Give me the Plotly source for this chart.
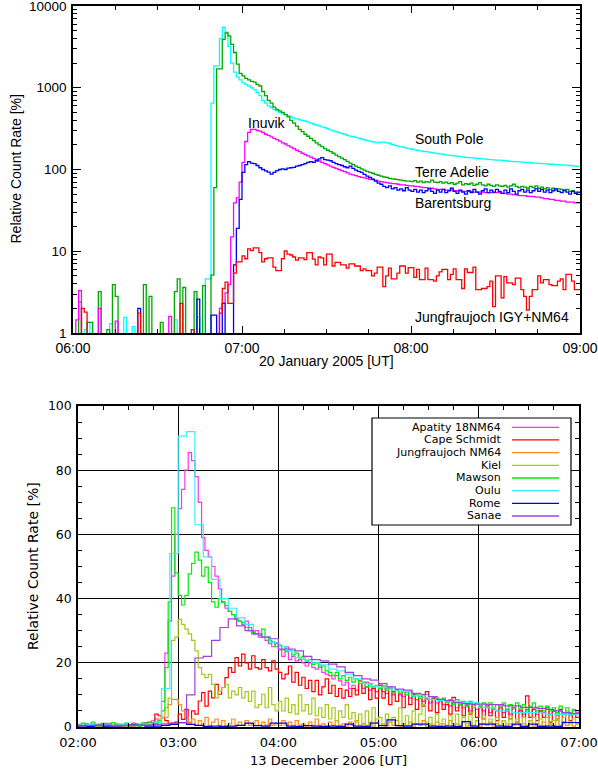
import pandas as pd
import plotly.graph_objects as go

# ---------------- Top panel data (1-minute bins, 20 January 2005, 06:00-09:00) ----------------
top_start = "2005-01-20 06:00"
top_end = "2005-01-20 09:00"
top_names = ["South Pole", "Terre Adelie", "Inuvik", "Barentsburg", "Jungfraujoch IGY+NM64"]

south_pole = [0.5,0.5,0.5,0.5,1.1,1.35,0.5,0.5,0.5,0.5,
              0.5,0.5,0.5,1.3,0.5,0.5,0.5,0.5,1.55,0.5,
              0.5,1.2,0.5,0.5,0.5,0.5,0.5,0.5,0.5,0.5,
              0.5,0.5,0.5,0.5,0.5,0.5,1.45,0.5,0.5,0.5,
              0.5,0.5,1.1,0.5,1.55,0.5,0.5,4.6,4.6,650,
              1850,1850,4000,5500,4800,3200,2000,1550,1350,1250,
              1150,1100,1050,1000,950,880,800,700,650,600,
              570,540,520,500,480,470,455,440,425,415,
              405,400,392,382,370,360,350,342,333,325,
              315,305,297,290,283,276,270,262,256,252,
              247,242,236,231,226,222,218,215,214,216,
              216,213,208,202,197,193,189,186,183,180,
              177,174,171,169,167,165,163,161,159,157,
              155,153,151,150,148,147,146,145,143,141,
              140,139,138,137,136,135,134,133,132,131,
              130,130,129,128,127,126,125,125,124,123,
              122,122,121,120,120,119,118,118,117,116,
              116,115,115,114,113,113,112,111,110,109]

terre_adelie = [0.5,0.5,2.4,0.5,0.5,1.35,1.35,0.5,0.5,3.2,
                0.5,0.5,1.1,0.5,3.9,2.8,0.5,0.5,0.5,0.5,
                0.5,0.5,0.5,0.5,0.5,3.9,0.5,2.8,0.5,0.5,
                0.5,1.35,0.5,0.5,0.5,0.5,3.2,4.6,0.5,3.6,
                0.5,0.5,0.5,3.2,0.5,0.5,3.8,0.5,0.5,5.1,
                60,1700,1700,3900,4700,4300,3400,2700,1950,1500,
                1400,1300,1250,1200,1170,1100,1050,900,800,700,
                650,580,545,520,500,470,440,400,370,340,
                310,290,270,255,240,225,212,200,190,180,
                172,165,158,150,144,138,132,126,120,115,
                110,106,102,98,95,92,90,87,85,83,
                81,80,78,77,76,75,74,73,72,72,
                71,73,70,72,69,71,70,74,70,69,
                71,68,70,67,69,66,68,71,65,67,
                66,68,64,66,69,65,63,66,64,62,
                65,63,62,64,61,63,66,62,60,62,
                61,59,62,60,63,59,61,58,60,57,
                59,56,58,57,55,57,54,55,53,52]

inuvik = [0.5,1.45,3.3,0.5,0.5,0.5,0.5,0.5,0.5,2.0,
          0.5,0.5,0.5,0.5,0.5,1.4,0.5,0.5,0.5,0.5,
          0.5,0.5,0.5,0.5,0.5,0.5,0.5,0.5,0.5,0.5,
          0.5,0.5,0.5,0.5,1.6,0.5,0.5,0.5,0.5,0.5,
          0.5,0.5,0.5,0.5,0.5,0.5,0.5,0.5,0.5,0.5,
          0.5,0.5,2.0,2.3,3.1,3.9,15,39,45,70,
          122,220,285,310,310,300,295,285,270,262,
          250,240,232,222,212,205,196,188,180,172,
          165,158,152,147,142,137,132,127,122,118,
          114,110,106,103,100,97,94,91,88,86,
          84,82,80,79,78,76,75,74,72,71,
          70,69,68,67,67,66,65,65,64,63,
          63,62,62,61,60,60,59,59,58,57,
          57,57,56,56,56,55,55,55,54,54,
          54,54,53,53,53,53,52,52,52,52,
          52,52,51,51,50,50,49,49,48,48,
          48,47,47,47,46,46,45,44,44,43,
          43,42,42,41,41,40,40,40,39,39]

barentsburg = [0.5,0.5,0.5,0.5,0.5,0.5,0.5,0.5,0.5,0.5,
               0.5,0.5,0.5,0.5,0.5,0.5,0.5,0.5,0.5,0.5,
               0.5,0.5,0.5,2.0,0.5,0.5,0.5,0.5,0.5,0.5,
               0.5,0.5,0.5,0.5,0.5,0.5,0.5,0.5,0.5,0.5,
               0.5,0.5,0.5,0.5,2.6,0.5,0.5,0.5,0.5,1.65,
               1.65,0.5,0.5,2.3,0.5,0.5,0.5,6.8,19,43,
               92,115,125,120,118,112,105,100,96,93,
               88,92,97,100,102,100,104,105,106,110,
               112,115,118,122,125,122,128,135,140,132,
               130,128,122,118,115,112,108,105,110,103,
               98,95,92,87,83,80,76,72,68,66,
               62,60,63,58,60,56,58,55,60,56,
               54,57,53,56,52,55,58,54,51,56,
               53,57,52,55,59,54,51,56,53,50,
               55,52,57,53,50,55,58,52,56,53,
               57,54,51,56,52,58,54,50,55,57,
               53,56,52,55,58,54,57,53,56,52,
               55,58,54,52,56,53,50,54,51,53]

jungfraujoch_igy = [0.5,0.5,0.5,2.0,1.8,0.5,0.5,0.5,0.5,0.5,
                    0.5,0.5,0.5,0.5,0.5,0.5,0.5,0.5,0.5,0.5,
                    0.5,0.5,0.5,1.75,0.5,0.5,0.5,0.5,0.5,0.5,
                    0.5,0.5,0.5,0.5,0.5,0.5,0.5,0.5,2.3,0.5,
                    0.5,0.5,1.1,0.5,0.5,0.5,0.5,0.5,0.5,0.5,
                    0.5,0.5,1.75,3.5,4.2,2.3,2.3,5.4,7.4,7.4,
                    8.8,8.1,10.7,10.2,11,11,9.6,7.4,8.1,8.3,
                    8.3,6.4,5.8,5.8,8.1,10.1,9.2,9,8.5,7.8,
                    8.3,8.3,7.9,9.6,9.6,8,6.8,8.5,8.3,6.8,
                    9.2,9.2,6.6,7.3,7.3,6.8,6.8,6.2,7,7,
                    6.6,6.6,5.8,6.1,5.8,5.8,5,5.4,6.4,6.4,
                    3.7,5,6.2,4.6,4.6,5.4,6.6,6.6,5.4,6.3,
                    6.3,4.8,6,4.5,4.5,6.2,4.5,4.5,4.3,5,
                    5.6,6,6,4.5,5.2,6.1,4.5,4.5,3.5,6.1,
                    5.5,5.5,6.4,3.4,3.4,3.5,3.5,3.7,4.3,2.1,
                    5,5,2.7,4.9,4.1,4.1,3.9,4.7,4.7,3.4,
                    2.8,1.9,2.8,3.4,3.4,5,4.1,4.5,4.5,3.9,
                    3.8,3.8,4.3,4.6,3.4,5.2,5.2,4.3,3.4,3.4]

top_values = [south_pole, terre_adelie, inuvik, barentsburg, jungfraujoch_igy]
top_colors = ["#00FFFF", "#00A800", "#FF00FF", "#0000FF", "#FF0000"]
top_y_ticks = [1, 10, 100, 1000, 10000]
top_x_title = "20 January 2005 [UT]"

# ---------------- Bottom panel data (13 December 2006, 02:00-07:00) ----------------
bot_start = "2006-12-13 02:00"
bot_end = "2006-12-13 07:00"
bot_names = ["Apatity 18NM64", "Cape Schmidt", "Jungfraujoch NM64", "Kiel",
             "Mawson", "Oulu", "Rome", "Sanae"]

# 2-minute series
apatity = [0.8,0.5,1.0,0.6,0.9,0.4,0.7,1.1,0.5,0.8,
           0.6,1.0,0.7,0.5,0.9,0.6,1.2,0.8,0.6,1.0,
           1.3,1.5,1.9,2.5,2.0,8,23,33,47,60,
           68,74,80,85.5,83,78,70,59,55,53,
           50,47,43,39,37,36,35,33.7,33,32,
           33,31,29,30,28,28,27,26,25,26,
           24,22,25,21,22,20.6,21,20,19,20,
           18.6,18,19,17,16.5,16,15,16,14.4,13,
           14,12,13,11.5,13.5,12,14,11.5,12.5,11,
           13,11,10.5,12,10,11.5,10,9.5,11,9,
           10,8.5,9.5,8,9,7.5,9,7.5,8.5,7,
           8,6.5,7.5,6,7.5,6,7,5,7,5.5,
           6.5,5,6.5,4.5,6,5,6.5,4.5,5.5,4,
           6,4.5,5.5,4,5.5,4.5,6,4,5,4.5,
           5.5,4,5,3.5,5,4,4.5,3.5,5,4.5]

cape_schmidt = [0.5,0.3,0.8,0.4,0.2,0.7,0.5,0.3,0.6,0.9,
                0.4,0.6,0.3,0.8,0.5,0.4,0.7,1.0,0.5,0.8,
                1.2,0.6,1.3,4,3.5,2.9,2.0,1.0,1.2,1.5,
                4,2.4,5.5,1.3,5,4,8.1,10.7,6.5,11.2,
                9.1,13.3,10.2,12.3,15.4,18.5,17,21.6,19,22.7,
                20,18,22.2,18.5,18,21,18.5,17.5,20.6,18,
                17,15,16.5,19,14,17,13,15.5,12,14.5,
                11,14.5,10,12.5,15,10.5,13,9.5,12,9,
                11.5,9.5,12,10,14.4,10.5,12.5,8.5,12,9,
                13,9,12,7,11,8,10.5,6,11,7,
                10,5.5,9.5,6.5,11,5,9,4.5,8,5.5,
                7,4,9.2,5,7,3.5,6.5,4,7,3,
                6,2.5,7,3.5,5.5,2,6,3,5,2.5,
                6,1.5,5,3,9.7,3,5.5,2,5,3,
                6,1.5,5,2.5,5.5,1.5,4.5,2,4,3]

jungfraujoch_nm64 = [0.3,0.5,0.2,0.6,0.3,0.4,0.2,0.5,0.3,0.6,
                     0.4,0.2,0.5,0.3,0.4,0.6,0.2,0.5,0.3,0.7,
                     0.4,0.6,0.8,1.5,2.5,3,6,7,8.6,8.6,
                     7,5,3,1.5,2.5,0.5,2,0.5,3,0.5,
                     1.5,2.5,0.5,2,0.5,1,2.5,0.5,1.5,0.5,
                     2,0.5,1,2,0.5,1.5,0.5,2.5,0.5,1,
                     0.5,2,0.5,1.5,0.3,2,0.5,1,0.3,1.5,
                     0.5,2.5,0.5,1,0.3,1.5,0.5,2,0.5,1,
                     0.3,1.5,0.5,2,0.3,1,0.5,1.5,0.3,2.5,
                     0.5,1,0.3,1.5,0.5,2,0.3,1,0.5,1.5,
                     0.3,1,0.5,2,0.3,1,0.5,1.5,0.3,1,
                     0.5,2,0.3,1,0.5,1.5,0.3,1,0.5,2,
                     0.3,1,0.5,1.5,0.3,1,0.5,2,0.3,1,
                     0.5,1.5,0.3,1,0.5,2,0.3,1,0.5,1.5,
                     0.3,1,0.5,2,0.3,1,0.5,1.5,0.3,1]

kiel = [0.3,0.6,0.2,0.5,0.8,0.3,0.4,0.7,0.2,0.5,
        0.9,0.3,0.6,0.4,0.8,0.2,0.5,0.7,0.3,0.6,
        0.4,0.8,0.5,0.8,1.5,3,3,9,27,28,
        33.5,32,30.5,29,27,23.7,18.5,16.4,15.4,16.4,
        13.3,9.1,11.2,12.3,13.3,9.1,11.2,10,12.3,9.1,
        11,8,11.2,6,7,10.2,6,12.3,7,5,
        8,5,9,4.5,7,4,10,5,7,4,
        9,3.5,6,3,7,2.5,6,2,5,3,
        7,2.5,4.5,1.5,4,1,5,0.5,6,1.5,
        3,0.5,4,1.5,3,0.5,6,1,3.5,0.5,
        5,1,4,7,1.5,3,0.5,4,1,2.5,
        0.5,3.5,1,4,0.5,3,1,4.5,0.5,2,
        1,3.5,0.5,2.5,1,3,0.5,2,1,3.5,
        0.5,2.5,1,3,0.5,2,3,1,2.5,0.5,
        3,1,2,4,0.5,3,5,1,2.5,1]

mawson = [0.5,1.2,0.3,0.8,1.5,0.4,0.9,0.2,1.1,0.6,
          1.4,0.3,0.8,0.5,1.2,0.4,1.0,0.7,0.3,1.3,
          0.9,1.5,1.0,1.2,2,5,18.5,39,68.3,48,
          41,38,41,47.7,51,54.5,52,47,49.8,45,
          39,37.3,40,38.8,37.8,36,35,33.6,33,32.5,
          31,30,29.5,29,28.5,30.5,28,27,26.5,25,
          25.5,24,23.5,24,22.5,23,21.5,22,20.5,21,
          19.5,20,18.5,19,17.5,17,16,17,15,16,
          14.5,15.5,14,15,13.5,14,12.5,13.5,12.5,13,
          12,12.8,11.5,12.5,10.5,11.5,10.5,11,10,11,
          9.5,10,9,10,8.5,9.5,8.5,9,8,9,
          7.5,8.5,7,8.5,7,8,6.5,8,6,7.5,
          6.5,7.5,6,7.5,5.5,7,6,7.5,5.5,7,
          6,7.5,5.5,7,5,6.5,7.5,5,6.5,5,
          6.5,5,6,4.5,6.5,4.5,6,4,5.5,5]

# 5-minute series
oulu = [0.6,0.8,0.6,0.7,0.5,0.8,0.6,0.9,1.0,1.5,
        12,54,90.6,92,63,53,46,40,37,34,
        32,29,28,26.3,25,23.8,21.6,20.9,20,19.4,
        18,17.5,16.5,15,13.5,12.5,12.3,11.8,11.3,11,
        9.7,9.2,8.5,8.3,8,8,7.7,7.5,6,6,
        5,5,4.5,4.5,4.5,4.3,4,4,3.8,3.8]

rome = [0.3,0.2,0.5,0.3,0.2,0.4,0.6,0.5,0.3,0.3,
        0.5,0.8,1.4,0.8,0.5,0.2,0.3,0.2,0.3,0.5,
        1.2,0.4,0.3,1.2,1.2,0.3,0.2,0.4,0.3,0.2,
        0.3,0.2,0.9,0.3,0.2,1.2,0.4,2.2,0.4,0.3,
        0.9,0.9,0.3,0.2,0.3,0.2,1.7,0.3,0.9,0.9,
        0.3,0.2,0.9,0.2,0.9,0.2,0.3,0.2,1.4,1.4]

sanae = [0.3,0.5,0.4,0.6,0.3,0.5,0.4,0.5,0.6,0.8,
         1.0,1.2,1.3,10,21.5,22,27,31,33.7,31.5,
         30,29,28,27.5,24.3,24.3,23.7,22,21,20.6,
         19.6,18.7,17,16,15,14.6,13.5,12.5,11.8,11.5,
         10.5,10.2,9.5,8.6,8.2,7.6,7.3,7.1,7.1,7,
         7,6.6,6.6,6.1,6.1,5.8,5.5,5,4.5,4.2]

bot_values = [apatity, cape_schmidt, jungfraujoch_nm64, kiel, mawson, oulu, rome, sanae]
bot_step_minutes = [2, 2, 2, 2, 2, 5, 5, 5]
bot_colors = ["#FF33EE", "#FF0000", "#FF8C1A", "#A8C81E", "#00EE00", "#33F0FF", "#0000DD", "#A040E0"]
bot_y_ticks = [0, 20, 40, 60, 80, 100]
bot_x_title = "13 December 2006 [UT]"
y_title = "Relative Count Rate [%]"

# ---------------- helpers ----------------
W, H = 598, 771
def px(x):
    return x / W
def py(y):
    return 1 - y / H

def stairs(start, minutes, vals, end):
    t = list(pd.date_range(start, periods=len(vals), freq=f"{minutes}min"))
    return t + [pd.Timestamp(end)], list(vals) + [vals[-1]]

TOPFONT = "Liberation Sans, Arial, Helvetica, sans-serif"
BOTFONT = "DejaVu Sans, sans-serif"

fig = go.Figure()

for name, vals, col in zip(top_names, top_values, top_colors):
    x, y = stairs(top_start, 1, vals, top_end)
    fig.add_trace(go.Scatter(x=x, y=y, mode="lines", line=dict(color=col, width=1.3, shape="hv"),
                             name=name, xaxis="x", yaxis="y", showlegend=False))

for name, vals, col, st in zip(bot_names, bot_values, bot_colors, bot_step_minutes):
    x, y = stairs(bot_start, st, vals, bot_end)
    fig.add_trace(go.Scatter(x=x, y=y, mode="lines", line=dict(color=col, width=1.2, shape="hv"),
                             name=name, xaxis="x2", yaxis="y2", showlegend=False))

minor_log = [m * 10 ** d for d in range(4) for m in range(2, 10)]

axis_common = dict(showline=True, linecolor="black", linewidth=1.5, mirror="ticks",
                   ticks="inside", tickcolor="black", zeroline=False, automargin=False,
                   ticklabeloverflow="allow")

fig.update_layout(
    width=W, height=H, margin=dict(l=0, r=0, t=0, b=0, autoexpand=False),
    paper_bgcolor="white", plot_bgcolor="white", showlegend=False,
    xaxis=dict(domain=[px(73), px(580)], anchor="y", type="date",
               range=[top_start, top_end], dtick=3600000, tick0=top_start, tickformat="%H:%M",
               ticklen=7, tickwidth=1.2, showgrid=False,
               minor=dict(dtick=900000, tick0=top_start, ticks="inside", ticklen=4, tickcolor="black", showgrid=False),
               tickfont=dict(family=TOPFONT, size=14, color="black"), ticklabelstandoff=1, **axis_common),
    yaxis=dict(domain=[py(333), py(6)], anchor="x", type="log", range=[0, 4],
               tickmode="array", tickvals=top_y_ticks, ticktext=[str(v) for v in top_y_ticks],
               ticklen=8, tickwidth=1.2, showgrid=False,
               minor=dict(tickmode="array", tickvals=minor_log, ticks="inside", ticklen=4, tickcolor="black", showgrid=False),
               tickfont=dict(family=TOPFONT, size=13.5, color="black"), ticklabelstandoff=2, **axis_common),
    xaxis2=dict(domain=[px(78), px(579)], anchor="y2", type="date",
                range=[bot_start, bot_end], dtick=3600000, tick0=bot_start, tickformat="%H:%M",
                ticklen=7, tickwidth=1.2, showgrid=True, gridcolor="black", gridwidth=1.3,
                minor=dict(dtick=900000, tick0=bot_start, ticks="inside", ticklen=4, tickcolor="black", showgrid=False),
                tickfont=dict(family=BOTFONT, size=13, color="black"), ticklabelstandoff=3, **axis_common),
    yaxis2=dict(domain=[py(727), py(406)], anchor="x2", range=[0, 100],
                tickmode="array", tickvals=bot_y_ticks,
                ticklen=7, tickwidth=1.2, showgrid=True, gridcolor="black", gridwidth=1.3,
                minor=dict(dtick=5, tick0=0, ticks="inside", ticklen=4, tickcolor="black", showgrid=False),
                tickfont=dict(family=BOTFONT, size=12.5, color="black"), ticklabelstandoff=2, **axis_common),
)

ann = []
# axis titles
ann.append(dict(text=y_title, x=px(15), y=py(169.5), xref="paper", yref="paper", showarrow=False,
                textangle=-90, font=dict(family=TOPFONT, size=14, color="black"), xanchor="center", yanchor="middle"))
ann.append(dict(text=top_x_title, x=px(326.5), y=py(361), xref="paper", yref="paper", showarrow=False,
                font=dict(family=TOPFONT, size=14, color="black"), xanchor="center", yanchor="middle"))
ann.append(dict(text=y_title, x=px(33), y=py(566), xref="paper", yref="paper", showarrow=False,
                textangle=-90, font=dict(family=BOTFONT, size=14, color="black"), xanchor="center", yanchor="middle"))
ann.append(dict(text=bot_x_title, x=px(328.5), y=py(760), xref="paper", yref="paper", showarrow=False,
                font=dict(family=BOTFONT, size=13, color="black"), xanchor="center", yanchor="middle"))
# station labels in top panel
label_pos = {"Inuvik": (246, 123), "South Pole": (413, 139), "Terre Adelie": (413, 172),
             "Barentsburg": (413, 203), "Jungfraujoch IGY+NM64": (413, 317)}
for txt, (lx, ly) in label_pos.items():
    ann.append(dict(text=txt, x=px(lx), y=py(ly), xref="paper", yref="paper", showarrow=False,
                    font=dict(family=TOPFONT, size=14, color="black"), xanchor="left", yanchor="middle"))

shapes = [dict(type="rect", xref="paper", yref="paper", x0=px(372), x1=px(571), y0=py(525), y1=py(418),
               fillcolor="white", line=dict(color="black", width=1.2), layer="above")]
for i, (name, col) in enumerate(zip(bot_names, bot_colors)):
    yy = 427.3 + 12.67 * i
    ann.append(dict(text=name, x=px(502), y=py(yy), xref="paper", yref="paper", showarrow=False,
                    font=dict(family=BOTFONT, size=11, color="black"), xanchor="right", yanchor="middle",
                    borderpad=0))
    shapes.append(dict(type="line", xref="paper", yref="paper", x0=px(512), x1=px(559), y0=py(yy), y1=py(yy),
                       line=dict(color=col, width=1.3), layer="above"))

fig.update_layout(annotations=ann, shapes=shapes)
fig.write_html("out.html")
